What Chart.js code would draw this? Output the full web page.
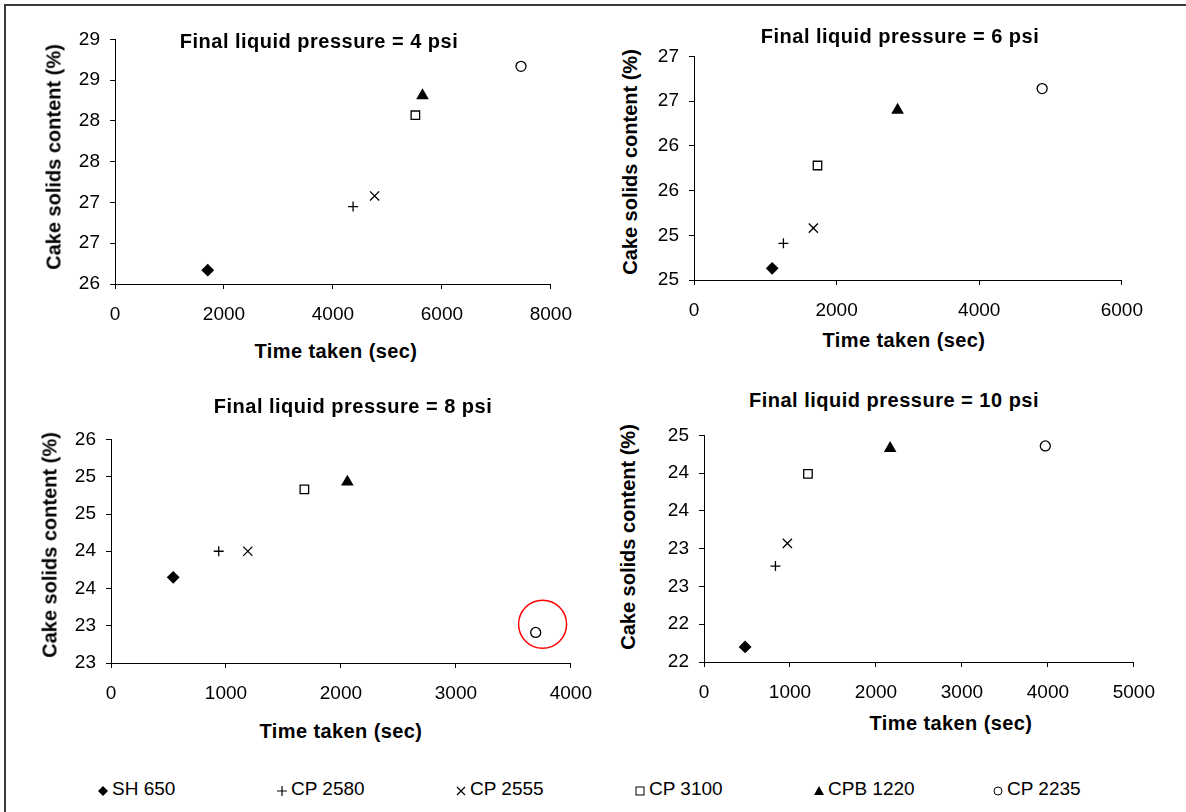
<!DOCTYPE html>
<html>
<head>
<meta charset="utf-8">
<script src="https://cdn.jsdelivr.net/npm/chart.js@4.4.0/dist/chart.umd.min.js"></script>
<style>
body{margin:0;background:#fff;width:1186px;height:812px;overflow:hidden;position:relative;font-family:"Liberation Sans",Arial,sans-serif;color:#000;}
#frame{position:absolute;left:4px;top:4px;width:1300px;height:900px;border-left:2px solid #3a3a3a;border-top:2px solid #3a3a3a;}
canvas{position:absolute;}
.ttl{position:absolute;font-weight:bold;font-size:20px;white-space:nowrap;transform:translate(-50%,-50%);letter-spacing:0.5px;}
.xtl{position:absolute;font-weight:bold;font-size:20px;white-space:nowrap;transform:translate(-50%,-50%);letter-spacing:0.4px;}
.ytl{position:absolute;font-weight:bold;font-size:20px;white-space:nowrap;transform:translate(-50%,-50%) rotate(-90deg);}
.leg{position:absolute;top:778px;font-size:19px;white-space:nowrap;height:22px;line-height:22px;}
.leg svg{position:absolute;left:-7px;top:7px;}
.leg span{position:absolute;left:8px;}
</style>
</head>
<body>
<div id="frame"></div>
<div id="root"></div>
<script>
var F = "'Liberation Sans', Arial, sans-serif";

// series names (legend order)
var series = ["SH 650", "CP 2580", "CP 2555", "CP 3100", "CPB 1220", "CP 2235"];

// time taken (sec) and cake solids content (%) per final liquid pressure
var time4 = [1702, 4370, 4765, 5513, 5644, 7452];
var solids4 = [26.17, 26.95, 27.08, 28.07, 28.31, 28.67];
var time6 = [1096, 1254, 1674, 1732, 2855, 4882];
var solids6 = [24.63, 24.91, 25.08, 25.78, 26.40, 26.64];
var time8 = [541, 937, 1190, 1682, 2056, 3694];
var solids8 = [23.65, 24.00, 24.00, 24.83, 24.93, 22.91];
var time10 = [478, 831, 970, 1209, 2165, 3970];
var solids10 = [21.70, 22.77, 23.07, 23.99, 24.33, 24.36];

// red ring around the odd CP 2235 point at 8 psi
var ringX = [3754];
var ringY = [23.02];

// marker look per series
var markerStyle = ["rectRot", "cross", "crossRot", "rect", "triangle", "circle"];
var markerSize = [5.5, 5, 6.5, 6, 6, 5];
var markerFill = ["#000", "#000", "#000", "#fff", "#000", "#fff"];

var root = document.getElementById("root");

function addText(cls, text, x, y) {
    var d = document.createElement("div");
    d.className = cls;
    d.textContent = text;
    d.style.left = x + "px";
    d.style.top = y + "px";
    root.appendChild(d);
}

var Wy = 50, Hx = 48, padT = 14, padR = 28;

function makeChart(p) {
    var cv = document.createElement("canvas");
    var left = p.area.l - Wy, top = p.area.t - padT;
    cv.width = p.area.r + padR - left;
    cv.height = p.area.b + Hx - top;
    cv.style.left = left + "px";
    cv.style.top = top + "px";
    root.appendChild(cv);

    var datasets = [];
    for (var i = 0; i < series.length; i++) {
        datasets.push({
            label: series[i],
            data: [{x: p.xs[i], y: p.ys[i]}],
            pointStyle: markerStyle[i],
            pointRadius: markerSize[i],
            pointBackgroundColor: markerFill[i],
            pointBorderColor: "#000",
            pointBorderWidth: 1.3,
            showLine: false
        });
    }
    if (p.ring) {
        datasets.push({
            label: "ring",
            data: [{x: ringX[0], y: ringY[0]}],
            pointStyle: "circle",
            pointRadius: 24,
            pointBackgroundColor: "rgba(0,0,0,0)",
            pointBorderColor: "#ff0000",
            pointBorderWidth: 1.5,
            showLine: false
        });
    }

    new Chart(cv, {
        type: "scatter",
        data: {datasets: datasets},
        options: {
            responsive: false,
            animation: false,
            layout: {padding: {top: padT, right: padR, left: 0, bottom: 0}},
            plugins: {legend: {display: false}, tooltip: {enabled: false}},
            scales: {
                x: {
                    type: "linear", min: 0, max: p.xMax,
                    ticks: {stepSize: p.xStep, color: "#000", font: {size: 19, family: F}, padding: 14,
                        maxRotation: 0, autoSkip: false, callback: function (v) { return String(v); }},
                    grid: {drawOnChartArea: false, drawTicks: true, tickLength: 5, color: "#000"},
                    border: {color: "#000", width: 1},
                    afterFit: function (s) { s.height = Hx; }
                },
                y: {
                    type: "linear", min: p.yMin, max: p.yMax,
                    ticks: {stepSize: 0.5, color: "#000", font: {size: 19, family: F}, padding: 10,
                        autoSkip: false, callback: function (v) { return String(Math.round(v)); }},
                    grid: {drawOnChartArea: false, drawTicks: true, tickLength: 5, color: "#000"},
                    border: {color: "#000", width: 1},
                    afterFit: function (s) { s.width = Wy; }
                }
            }
        }
    });

    addText("ttl", p.title, p.titleAt[0], p.titleAt[1]);
    addText("xtl", "Time taken (sec)", p.xTitleAt[0], p.xTitleAt[1]);
    addText("ytl", "Cake solids content (%)", p.yTitleAt[0], p.yTitleAt[1]);
}

makeChart({title: "Final liquid pressure = 4 psi", xs: time4, ys: solids4,
    xMax: 8000, xStep: 2000, yMin: 26, yMax: 29,
    area: {l: 115, t: 32, r: 558, b: 284},
    titleAt: [319, 41], xTitleAt: [336, 351], yTitleAt: [54, 157]});
makeChart({title: "Final liquid pressure = 6 psi", xs: time6, ys: solids6,
    xMax: 6000, xStep: 2000, yMin: 24.5, yMax: 27,
    area: {l: 694, t: 49, r: 1129, b: 280},
    titleAt: [900, 36], xTitleAt: [904, 340], yTitleAt: [630, 162]});
makeChart({title: "Final liquid pressure = 8 psi", xs: time8, ys: solids8, ring: true,
    xMax: 4000, xStep: 1000, yMin: 22.5, yMax: 25.5,
    area: {l: 111, t: 428, r: 578, b: 663},
    titleAt: [353, 406], xTitleAt: [341, 731], yTitleAt: [50, 545]});
makeChart({title: "Final liquid pressure = 10 psi", xs: time10, ys: solids10,
    xMax: 5000, xStep: 1000, yMin: 21.5, yMax: 24.5,
    area: {l: 704, t: 428, r: 1141, b: 662},
    titleAt: [894, 400], xTitleAt: [951, 723], yTitleAt: [628, 537]});

// legend row
var legX = [110, 289, 468, 647, 826, 1005];
var legIcon = [
    '<polygon points="6,1 11,6 6,11 1,6" fill="#000"/>',
    '<path d="M1,6H11M6,1V11" stroke="#000" stroke-width="1.2"/>',
    '<path d="M2,2L10,10M10,2L2,10" stroke="#000" stroke-width="1.2"/>',
    '<rect x="2" y="2" width="8" height="8" fill="#fff" stroke="#000" stroke-width="1"/>',
    '<polygon points="6,1 11,10 1,10" fill="#000"/>',
    '<circle cx="6" cy="6" r="4" fill="#fff" stroke="#000" stroke-width="1"/>'
];
for (var k = 0; k < series.length; k++) {
    var it = document.createElement("div");
    it.className = "leg";
    it.style.left = (legX[k] - 6) + "px";
    it.innerHTML = '<svg width="12" height="12">' + legIcon[k] + '</svg><span>' + series[k] + '</span>';
    root.appendChild(it);
}
</script>
</body>
</html>
